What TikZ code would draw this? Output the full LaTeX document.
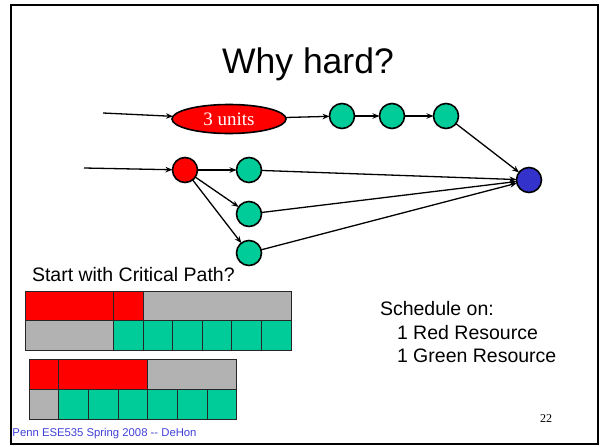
\documentclass[tikz,border=0pt]{standalone}
\usepackage{fontspec}
\setmainfont{Liberation Sans}
\newfontfamily\serifface{Liberation Serif}
\usetikzlibrary{arrows.meta,shapes.geometric}

\definecolor{taskred}{HTML}{FF0000}
\definecolor{taskgreen}{HTML}{00CC99}
\definecolor{idlegray}{HTML}{B2B2B2}
\definecolor{sinkblue}{HTML}{3333CC}
\definecolor{footblue}{HTML}{4040D8}

\begin{document}
\begin{tikzpicture}[x=1pt,y=-1pt,
  every node/.style={inner sep=0pt,outer sep=0pt},
  tasknode/.style={circle,draw=black,line width=1.6pt,minimum size=25pt},
  greennode/.style={tasknode,fill=taskgreen},
  rednode/.style={tasknode,fill=taskred},
  bluenode/.style={tasknode,fill=sinkblue},
  edge/.style={line width=1.3pt,-{Stealth[length=7pt,width=5.5pt]}},
  cell/.style={draw=black!85,line width=0.9pt},
  bodytext/.style={anchor=base west,font=\fontsize{19.5}{22}\selectfont},
]
\useasboundingbox (0,0) rectangle (600,447);
% slide frame
\draw[line width=2pt] (11,5) rectangle (598,444);

% title
\node[anchor=base,font=\fontsize{35.5}{38}\selectfont] (title) at (308,73) {Why hard?};

% task graph
\node[ellipse,draw=black,line width=1.6pt,fill=taskred,minimum width=114pt,minimum height=29pt,
      font=\serifface\fontsize{19}{21}\selectfont,text=white] (big) at (229,119) {3 units};
\node[greennode] (t1) at (342,116) {};
\node[greennode] (t2) at (392,116) {};
\node[greennode] (t3) at (446,116) {};
\node[rednode] (r) at (185,170) {};
\node[greennode] (g1) at (249,170) {};
\node[greennode] (g2) at (249,214) {};
\node[greennode] (g3) at (249,253) {};
\node[bluenode] (sink) at (529,180) {};
\coordinate (in1) at (103,113);
\coordinate (in2) at (84,168);

\draw[edge] (in1) -- (big);
\draw[edge] (in2) -- (r);
\draw[edge] (big) -- (t1);
\draw[edge] (t1) -- (t2);
\draw[edge] (t2) -- (t3);
\draw[edge] (t3) -- (sink);
\draw[edge] (r) -- (g1);
\draw[edge] (r) -- (g2);
\draw[edge] (r) -- (g3);
\draw[edge] (g1) -- (sink);
\draw[edge] (g2) -- (sink);
\draw[edge] (g3) -- (sink);

% caption above the schedules
\node[bodytext] (q) at (32,281) {Start with Critical Path?};

% schedule 1: critical path first (9 slots)
\def\cw{29.56}
\begin{scope}[shift={(25,291)}]
  \fill[taskred] (0,0) rectangle (4*\cw,29.7);
  \fill[idlegray] (4*\cw,0) rectangle (9*\cw,29.7);
  \fill[idlegray] (0,29.7) rectangle (3*\cw,59.4);
  \fill[taskgreen] (3*\cw,29.7) rectangle (9*\cw,59.4);
  \draw[cell] (0,0) rectangle (3*\cw,29.7);
  \draw[cell] (3*\cw,0) rectangle (4*\cw,29.7);
  \draw[cell] (4*\cw,0) rectangle (9*\cw,29.7);
  \draw[cell] (0,29.7) rectangle (3*\cw,59.4);
  \foreach \i in {3,...,8} {\draw[cell] (\i*\cw,29.7) rectangle ({(\i+1)*\cw},59.4);}
\end{scope}

% schedule 2: short red task first (7 slots)
\def\cv{29.63}
\begin{scope}[shift={(29.3,359.3)}]
  \fill[taskred] (0,0) rectangle (4*\cv,30);
  \fill[idlegray] (4*\cv,0) rectangle (7*\cv,30);
  \fill[idlegray] (0,30) rectangle (\cv,60);
  \fill[taskgreen] (\cv,30) rectangle (7*\cv,60);
  \draw[cell] (0,0) rectangle (\cv,30);
  \draw[cell] (\cv,0) rectangle (4*\cv,30);
  \draw[cell] (4*\cv,0) rectangle (7*\cv,30);
  \draw[cell] (0,30) rectangle (\cv,60);
  \foreach \i in {1,...,6} {\draw[cell] (\i*\cv,30) rectangle ({(\i+1)*\cv},60);}
\end{scope}

% resources note
\node[bodytext] (s0) at (380,315.7) {Schedule on:};
\node[bodytext] (s1) at (397,339) {1 Red Resource};
\node[bodytext] (s2) at (397,362.3) {1 Green Resource};

% footer and page number
\node[anchor=base west,font=\fontsize{11.3}{12}\selectfont,text=footblue] (foot) at (12.5,436.7) {Penn ESE535 Spring 2008 -{}- DeHon};
\node[anchor=base west,font=\serifface\fontsize{12}{13}\selectfont] (page) at (540,422.7) {22};
\end{tikzpicture}
\end{document}
